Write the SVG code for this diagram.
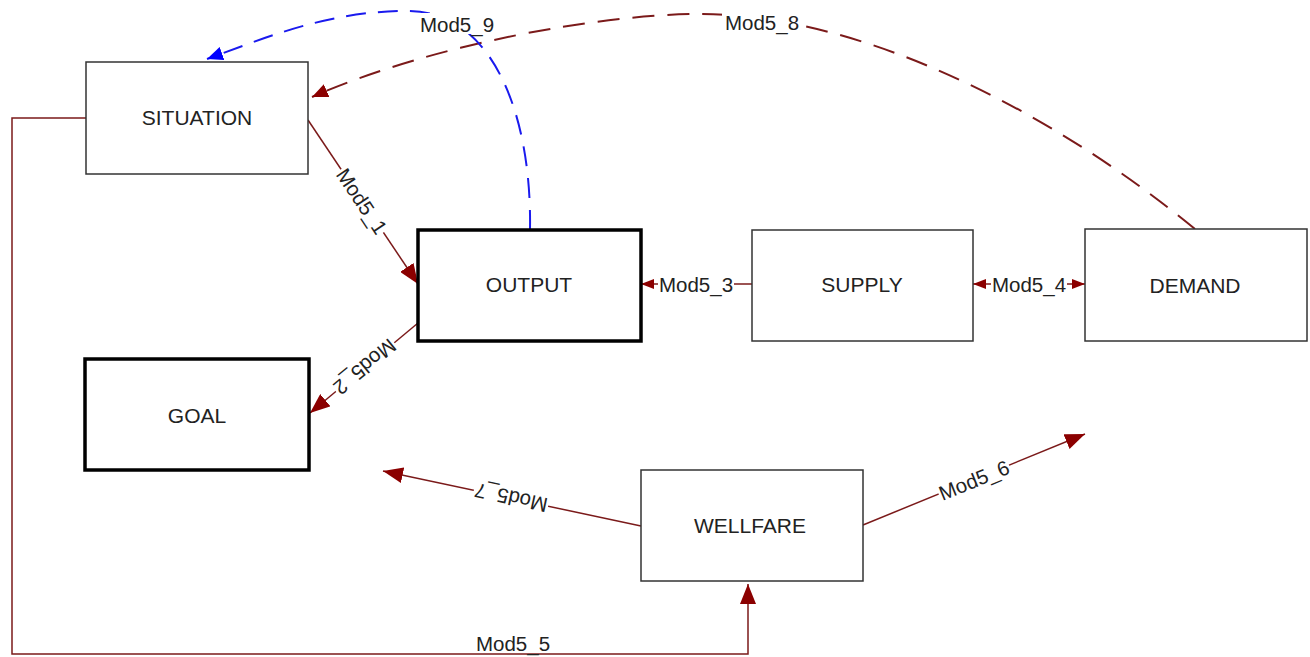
<svg xmlns="http://www.w3.org/2000/svg" width="1310" height="657" viewBox="0 0 1310 657">
<style>
.box{fill:#fff;stroke:#333;stroke-width:1.5}
.thick{fill:#fff;stroke:#000;stroke-width:3.5}
.nt{font-family:"Liberation Sans",Arial,sans-serif;font-size:21px;fill:#222;text-anchor:middle;dominant-baseline:central}
.lt{font-family:"Liberation Sans",Arial,sans-serif;font-size:20.5px;fill:#222;text-anchor:middle;dominant-baseline:central}
.ln{fill:none;stroke:#7b1a1a;stroke-width:1.5}
.dr{fill:none;stroke:#7b1a1a;stroke-width:2;stroke-dasharray:22 13}
.db{fill:none;stroke:#1a1aee;stroke-width:2;stroke-dasharray:20 12}
.bg{fill:#fff}
</style>
<defs>
<marker id="big" viewBox="0 0 20 16" refX="20" refY="8" markerWidth="20" markerHeight="16" markerUnits="userSpaceOnUse" orient="auto"><path d="M0,0 L20,8 L0,16 z" fill="#8b0000"/></marker>
<marker id="med" viewBox="0 0 16 14" refX="16" refY="7" markerWidth="16" markerHeight="14" markerUnits="userSpaceOnUse" orient="auto"><path d="M0,0 L16,7 L0,14 z" fill="#8b0000"/></marker>
<marker id="blu" viewBox="0 0 16 14" refX="16" refY="7" markerWidth="16" markerHeight="14" markerUnits="userSpaceOnUse" orient="auto"><path d="M0,0 L16,7 L0,14 z" fill="#0000ff"/></marker>
<marker id="sm" viewBox="0 0 13 10" refX="13" refY="5" markerWidth="13" markerHeight="10" markerUnits="userSpaceOnUse" orient="auto"><path d="M0,0 L13,5 L0,10 z" fill="#8b0000"/></marker>
<marker id="sms" viewBox="0 0 13 10" refX="0" refY="5" markerWidth="13" markerHeight="10" markerUnits="userSpaceOnUse" orient="auto"><path d="M13,0 L0,5 L13,10 z" fill="#8b0000"/></marker>
</defs>

<g id="connectors">
<path class="ln" d="M86,118 H12 V654 H748 V584" marker-end="url(#big)"/>
<text class="lt" x="513" y="643">Mod5_5</text>
<path class="ln" d="M308,120 L418,284" marker-end="url(#big)"/>
<path class="ln" d="M418,323 L310,413" marker-end="url(#big)"/>
<path class="ln" d="M752,284 L641,284" marker-end="url(#sm)"/>
<path class="ln" d="M973,284 L1085,284" marker-start="url(#sms)" marker-end="url(#sm)"/>
<path class="ln" d="M863,525 L1085,434" marker-end="url(#big)"/>
<path class="ln" d="M641,526 L383,471" marker-end="url(#big)"/>
<path class="dr" d="M1195,229 C1050,110 860,14 700,14 C600,14 430,45 312,97" marker-end="url(#med)"/>
<path class="db" d="M530,230 C532,110 490,12 410,11 C330,10 265,38 207,59" marker-end="url(#blu)"/>

<g transform="translate(362,201) rotate(56.2)"><rect class="bg" x="-38" y="-10" width="76" height="20"/><text class="lt" x="0" y="0">Mod5_1</text></g>
<g transform="translate(365,367) rotate(140.2)"><rect class="bg" x="-38" y="-10" width="76" height="20"/><text class="lt" x="0" y="0">Mod5_2</text></g>
<g transform="translate(696,284)"><rect class="bg" x="-38" y="-10" width="76" height="20"/><text class="lt" x="0" y="0">Mod5_3</text></g>
<g transform="translate(1029,284)"><rect class="bg" x="-38" y="-10" width="76" height="20"/><text class="lt" x="0" y="0">Mod5_4</text></g>
<g transform="translate(974,480) rotate(-22.3)"><rect class="bg" x="-38" y="-10" width="76" height="20"/><text class="lt" x="0" y="0">Mod5_6</text></g>
<g transform="translate(511,498) rotate(192.2)"><rect class="bg" x="-38" y="-10" width="76" height="20"/><text class="lt" x="0" y="0">Mod5_7</text></g>
<g transform="translate(762,22)"><rect class="bg" x="-40" y="-11" width="80" height="22"/><text class="lt" x="0" y="0">Mod5_8</text></g>
<g transform="translate(457,24)"><rect class="bg" x="-39" y="-11" width="78" height="21"/><text class="lt" x="0" y="0">Mod5_9</text></g>
</g>

<g id="situation"><rect class="box" x="86" y="62" width="222" height="112"/><text class="nt" x="197" y="117">SITUATION</text></g>
<g id="output"><rect class="thick" x="418" y="230" width="223" height="111"/><text class="nt" x="529" y="284">OUTPUT</text></g>
<g id="supply"><rect class="box" x="752" y="230" width="221" height="111"/><text class="nt" x="862" y="284">SUPPLY</text></g>
<g id="demand"><rect class="box" x="1085" y="229" width="222" height="112"/><text class="nt" x="1195" y="285">DEMAND</text></g>
<g id="goal"><rect class="thick" x="85" y="359" width="224" height="111"/><text class="nt" x="197" y="415">GOAL</text></g>
<g id="wellfare"><rect class="box" x="641" y="470" width="222" height="111"/><text class="nt" x="750" y="525">WELLFARE</text></g>
</svg>
